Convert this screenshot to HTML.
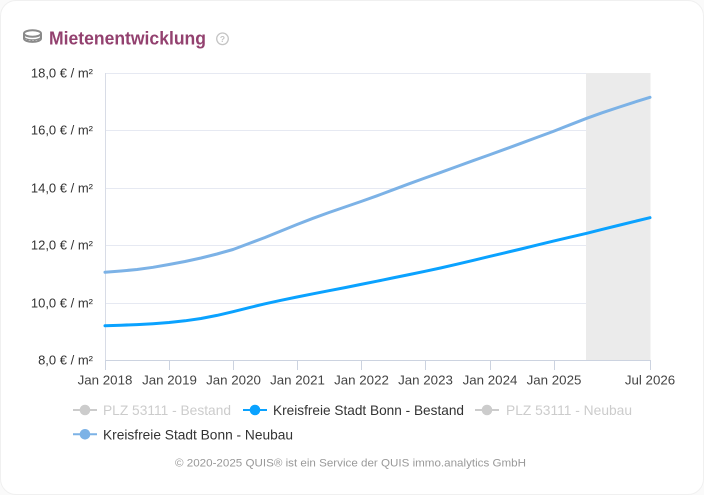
<!DOCTYPE html>
<html>
<head>
<meta charset="utf-8">
<style>
html,body{margin:0;padding:0;background:#fafafa;}
body{width:704px;height:495px;overflow:hidden;}
.card{position:absolute;left:0;top:0;width:702px;height:493px;background:#fff;border:1px solid #f0f0f0;border-radius:16px;}
svg{position:absolute;left:0;top:0;}
text{font-family:"Liberation Sans",Arial,sans-serif;}
</style>
</head>
<body>
<div class="card"></div>
<svg width="704" height="495" viewBox="0 0 704 495" xmlns="http://www.w3.org/2000/svg">
  <!-- header icon (coins) -->
  <g fill="none" stroke="#8a8a8a">
    <ellipse cx="32.5" cy="33.5" rx="8.5" ry="3.2" stroke-width="2"/>
    <path d="M24 33.5 v5 a8.5 3.4 0 0 0 17 0 v-5" stroke-width="2"/>
    <path d="M24 36.5 a8.5 3.4 0 0 0 17 0" stroke-width="1.2"/>
  </g>
  <g fill="#8a8a8a">
    <rect x="27" y="39.2" width="1.6" height="1.6"/>
    <rect x="30.5" y="39.8" width="1.6" height="1.6"/>
    <rect x="34" y="39.8" width="1.6" height="1.6"/>
    <rect x="37.3" y="39.2" width="1.6" height="1.6"/>
  </g>
  <text x="49" y="44.3" font-size="18.5" font-weight="bold" fill="#93416f" textLength="157" lengthAdjust="spacingAndGlyphs">Mietenentwicklung</text>
  <circle cx="222.5" cy="38.8" r="5.8" fill="none" stroke="#c4c4c4" stroke-width="1.3"/>
  <text x="222.5" y="42.2" font-size="8.5" font-weight="bold" fill="#c4c4c4" text-anchor="middle">?</text>

  <!-- grid -->
  <g stroke="#e6e9f2" stroke-width="1">
    <line x1="105" y1="73.5" x2="650" y2="73.5"/>
    <line x1="105" y1="130.5" x2="650" y2="130.5"/>
    <line x1="105" y1="188.5" x2="650" y2="188.5"/>
    <line x1="105" y1="245.5" x2="650" y2="245.5"/>
    <line x1="105" y1="303.5" x2="650" y2="303.5"/>
  </g>
  <!-- forecast band -->
  <rect x="586" y="73" width="64.5" height="287.5" fill="#ebebeb"/>

  <!-- axes -->
  <line x1="105.5" y1="73" x2="105.5" y2="361" stroke="#d8dce6" stroke-width="1"/>
  <line x1="105" y1="360.5" x2="651" y2="360.5" stroke="#ccd3e0" stroke-width="1"/>
  <g stroke="#ccd3e0" stroke-width="1">
    <line x1="105.5" y1="360" x2="105.5" y2="370"/>
    <line x1="169.5" y1="360" x2="169.5" y2="370"/>
    <line x1="233.5" y1="360" x2="233.5" y2="370"/>
    <line x1="297.5" y1="360" x2="297.5" y2="370"/>
    <line x1="361.5" y1="360" x2="361.5" y2="370"/>
    <line x1="425.5" y1="360" x2="425.5" y2="370"/>
    <line x1="490.5" y1="360" x2="490.5" y2="370"/>
    <line x1="554.5" y1="360" x2="554.5" y2="370"/>
    <line x1="650.5" y1="360" x2="650.5" y2="370"/>
  </g>

  <!-- y labels -->
  <g font-size="13" fill="#333" text-anchor="end">
    <text x="93" y="77.5">18,0 € / m²</text>
    <text x="93" y="134.5">16,0 € / m²</text>
    <text x="93" y="192.5">14,0 € / m²</text>
    <text x="93" y="249.5">12,0 € / m²</text>
    <text x="93" y="307.5">10,0 € / m²</text>
    <text x="93" y="364.5">8,0 € / m²</text>
  </g>
  <!-- x labels -->
  <g font-size="13.3" fill="#444" text-anchor="middle">
    <text x="105" y="384.3">Jan 2018</text>
    <text x="169.5" y="384.3">Jan 2019</text>
    <text x="233.5" y="384.3">Jan 2020</text>
    <text x="297.5" y="384.3">Jan 2021</text>
    <text x="361.5" y="384.3">Jan 2022</text>
    <text x="425.5" y="384.3">Jan 2023</text>
    <text x="490" y="384.3">Jan 2024</text>
    <text x="554" y="384.3">Jan 2025</text>
    <text x="650" y="384.3">Jul 2026</text>
  </g>

  <!-- series: Neubau -->
  <polyline fill="none" stroke="#7cb2e6" stroke-width="3" stroke-linejoin="round" stroke-linecap="round"
    points="105,272.3 121,271 137,269.5 153,267.3 169,264.5 185,261.5 201,258 217,254 233,249.5 249,243.5 265,237.5 281,231 297,224.5 313,218.3 329,212.5 345,207 361,201.5 377,195.8 393,189.8 409,183.8 425,178 441,172.3 457,166.5 473,160.7 489,155 505,149.2 521,143.3 537,137.4 553,131.5 570,124.8 586.7,118.3 602,112.8 618,107.5 634,102.3 650,97.3"/>
  <!-- series: Bestand -->
  <polyline fill="none" stroke="#0aa2ff" stroke-width="3" stroke-linejoin="round" stroke-linecap="round"
    points="105,325.7 121,325.2 137,324.6 153,323.7 169,322.5 185,320.8 201,318.5 217,315.4 233,311.7 249,307.7 265,303.8 281,300.3 297,297 313,293.8 329,290.7 345,287.6 361,284.4 377,281.2 393,277.9 409,274.6 425,271.3 441,267.9 457,264.2 473,260.4 489,256.6 505,252.8 521,249 537,245.1 553,241.2 570,237.2 586.7,233.3 602,229.4 618,225.5 634,221.6 650,217.7"/>

  <!-- legend -->
  <g>
    <line x1="73" y1="410" x2="97" y2="410" stroke="#cccccc" stroke-width="2"/>
    <circle cx="85" cy="410" r="5.3" fill="#cccccc"/>
    <text x="103" y="415" font-size="14" fill="#cccccc" textLength="128" lengthAdjust="spacingAndGlyphs">PLZ 53111 - Bestand</text>

    <line x1="243" y1="410" x2="267" y2="410" stroke="#0aa2ff" stroke-width="2"/>
    <circle cx="255" cy="410" r="5.3" fill="#0aa2ff"/>
    <text x="273" y="415" font-size="14" fill="#333" textLength="191" lengthAdjust="spacingAndGlyphs">Kreisfreie Stadt Bonn - Bestand</text>

    <line x1="475" y1="410" x2="499" y2="410" stroke="#cccccc" stroke-width="2"/>
    <circle cx="487" cy="410" r="5.3" fill="#cccccc"/>
    <text x="506" y="415" font-size="14" fill="#cccccc" textLength="126" lengthAdjust="spacingAndGlyphs">PLZ 53111 - Neubau</text>

    <line x1="73" y1="434.3" x2="97" y2="434.3" stroke="#7cb2e6" stroke-width="2"/>
    <circle cx="85" cy="434.3" r="5.3" fill="#7cb2e6"/>
    <text x="103" y="439.3" font-size="14" fill="#333" textLength="190" lengthAdjust="spacingAndGlyphs">Kreisfreie Stadt Bonn - Neubau</text>
  </g>

  <!-- footer -->
  <text x="175" y="466.7" font-size="11" fill="#999" textLength="351" lengthAdjust="spacingAndGlyphs">© 2020-2025 QUIS® ist ein Service der QUIS immo.analytics GmbH</text>
</svg>
</body>
</html>
